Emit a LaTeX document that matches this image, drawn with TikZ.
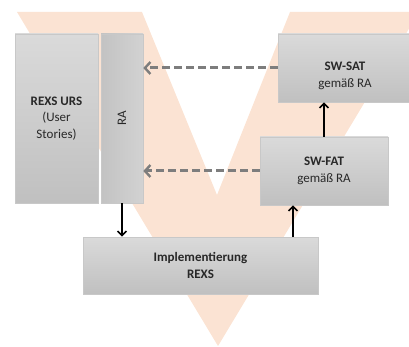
\documentclass[tikz,border=0pt]{standalone}
\usepackage{fontspec}
\setmainfont{Carlito}
\usetikzlibrary{arrows.meta,calc}
\definecolor{vpeach}{RGB}{251,227,211}
\definecolor{boxtop}{RGB}{218,218,218}
\definecolor{boxbot}{RGB}{192,192,192}
\definecolor{boxline}{RGB}{200,200,200}
\definecolor{txt}{RGB}{40,40,40}
\definecolor{dashgray}{RGB}{125,125,125}
\tikzset{
  box/.style={draw=boxline, line width=0.6pt, top color=boxtop, bottom color=boxbot,
    inner sep=0pt, align=center, text=txt, font=\fontsize{13}{16.5}\selectfont},
  boxh/.style={draw=boxline, line width=0.6pt, left color=boxbot!90!boxtop, right color=boxtop!70!boxbot,
    inner sep=0pt, align=center, text=txt, font=\fontsize{13}{16.5}\selectfont},
  lbl/.style={inner sep=0pt, align=center, text=txt, font=\fontsize{13}{16.5}\selectfont},
  dasharrow/.style={draw=dashgray, line width=3pt, dash pattern=on 8pt off 4pt,
    -{Straight Barb[length=5.5pt,width=12pt,line width=2.4pt]}},
  blackarrow/.style={draw=black, line width=1.7pt,
    -{Straight Barb[length=4.5pt,width=9pt,line width=1.6pt]}}
}
\begin{document}
\begin{tikzpicture}[x=1pt,y=-1pt]
\useasboundingbox (0,0) rectangle (409,347);
% V background
\fill[vpeach] (17,12) -- (218,346) -- (419,12) -- (290,12) -- (217,195) -- (142,12) -- cycle;
% boxes
\node[box, minimum width=83pt, minimum height=169pt] (urs) at (56.5,118.5)
  {\textbf{REXS URS}\\(User\\Stories)};
\node[boxh, minimum width=42pt, minimum height=169pt] (ra) at (122,118.5) {\rotatebox{90}{RA}};
\node[box, minimum width=134pt, minimum height=68pt] (sat) at (345,68) {};
\node[lbl] (sattext) at (345,76) {\textbf{SW-SAT}\\gemäß RA};
\node[box, minimum width=128pt, minimum height=68pt] (fat) at (324,171) {\textbf{SW-FAT}\\gemäß RA};
\node[box, minimum width=235pt, minimum height=57pt] (impl) at (200.5,265.5)
  {\textbf{Implementierung}\\\textbf{REXS}};
% connectors
\draw[dasharrow] (sat.west) -- (sat.west -| ra.east);
\draw[dasharrow] (fat.west) -- (fat.west -| ra.east);
\draw[blackarrow] (ra.south) -- (ra.south |- impl.north);
\coordinate (implout) at (293,237);
\draw[blackarrow] (implout) -- (implout |- fat.south);
\draw[blackarrow] (fat.north) -- (fat.north |- sat.south);
\end{tikzpicture}
\end{document}
